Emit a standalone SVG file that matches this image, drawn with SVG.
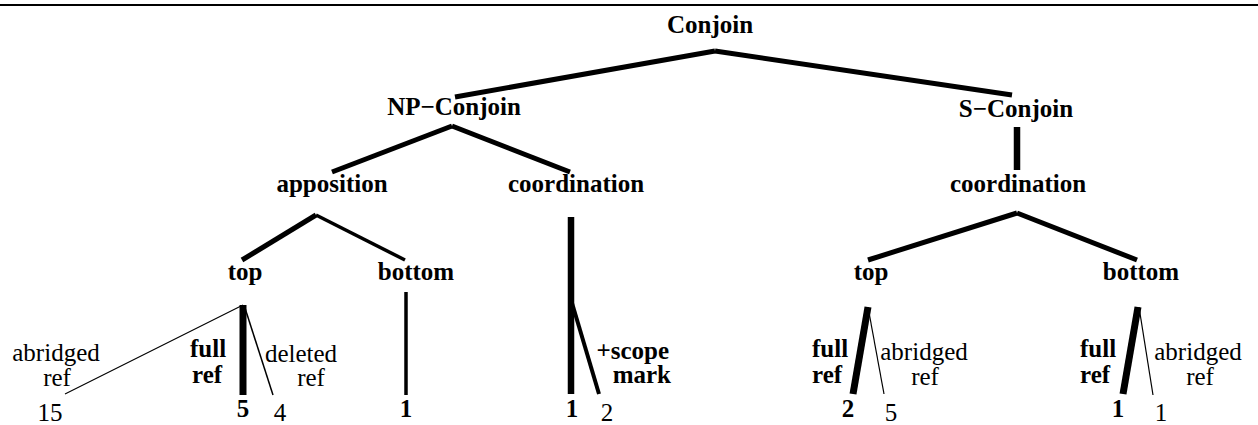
<svg xmlns="http://www.w3.org/2000/svg" width="1258" height="425" viewBox="0 0 1258 425">
<style>
text{font-family:"Liberation Serif","Times New Roman","DejaVu Serif",serif;font-size:25px;fill:#000}
.b{font-weight:bold}
.c{text-anchor:middle}
.e{text-anchor:end}
line{stroke:#000;stroke-linecap:butt}
.w1{stroke-width:1.2}
.w15{stroke-width:1.5}
.w3{stroke-width:3.5}
.w4{stroke-width:4}
.w5{stroke-width:5}
.w6{stroke-width:6.5}
.w7{stroke-width:7}
</style>
<rect x="0" y="4" width="1258" height="2" fill="#000"/>
<g id="connectors">
<line class="w5" x1="715" y1="51" x2="455" y2="97"/>
<line class="w5" x1="715" y1="51" x2="1012" y2="95"/>
<line class="w5" x1="452" y1="126" x2="332" y2="172"/>
<line class="w5" x1="452" y1="126" x2="570" y2="172"/>
<line class="w6" x1="1017" y1="127" x2="1017" y2="170"/>
<line class="w5" x1="316" y1="215" x2="242" y2="260"/>
<line class="w3" x1="316" y1="215" x2="405" y2="260"/>
<line class="w6" x1="571" y1="217" x2="571" y2="394"/>
<line class="w4" x1="572" y1="303" x2="599" y2="394"/>
<line class="w5" x1="1017" y1="213" x2="868" y2="260"/>
<line class="w5" x1="1017" y1="213" x2="1137" y2="260"/>
<line class="w7" x1="243" y1="305" x2="243" y2="395"/>
<line class="w1" x1="243" y1="305" x2="65" y2="394"/>
<line class="w15" x1="245" y1="308" x2="273" y2="395"/>
<line class="w3" x1="406" y1="292" x2="406" y2="395"/>
<line class="w7" x1="868" y1="307" x2="853" y2="394"/>
<line class="w1" x1="868" y1="307" x2="884" y2="394"/>
<line class="w7" x1="1138" y1="307" x2="1123" y2="394"/>
<line class="w1" x1="1139" y1="307" x2="1153" y2="395"/>
</g>
<g id="n-conjoin"><text class="b c" x="710" y="33">Conjoin</text></g>
<g id="n-npconjoin"><text class="b c" x="454" y="115">NP−Conjoin</text></g>
<g id="n-sconjoin"><text class="b c" x="1016" y="117">S−Conjoin</text></g>
<g id="n-apposition"><text class="b c" x="332" y="192">apposition</text></g>
<g id="n-coord-np"><text class="b c" x="576" y="192">coordination</text></g>
<g id="n-coord-s"><text class="b c" x="1018" y="192">coordination</text></g>
<g id="n-top-ap"><text class="b c" x="245" y="280">top</text></g>
<g id="n-bottom-ap"><text class="b c" x="416" y="280">bottom</text></g>
<g id="n-top-s"><text class="b c" x="871" y="280">top</text></g>
<g id="n-bottom-s"><text class="b c" x="1141" y="280">bottom</text></g>
<g id="leaf-abridged-1">
<text class="c" x="56" y="361">abridged</text>
<text class="c" x="57" y="386">ref</text>
<text class="c" x="50" y="421">15</text>
</g>
<g id="leaf-full-1">
<text class="b" x="190" y="357">full</text>
<text class="b" x="192" y="383">ref</text>
<text class="b c" x="243" y="417">5</text>
</g>
<g id="leaf-deleted">
<text class="c" x="301" y="362">deleted</text>
<text class="c" x="311" y="386">ref</text>
<text class="c" x="280" y="421">4</text>
</g>
<g id="leaf-bottom-ap"><text class="b c" x="406" y="417">1</text></g>
<g id="leaf-coord-np">
<text class="b c" x="572" y="417">1</text>
</g>
<g id="leaf-scope">
<text class="b e" x="669" y="359">+scope</text>
<text class="b e" x="671" y="383">mark</text>
<text class="c" x="607" y="421">2</text>
</g>
<g id="leaf-full-2">
<text class="b" x="812" y="357">full</text>
<text class="b" x="812" y="383">ref</text>
<text class="b c" x="848" y="417">2</text>
</g>
<g id="leaf-abridged-2">
<text class="c" x="924" y="360">abridged</text>
<text class="c" x="925" y="385">ref</text>
<text class="c" x="891" y="421">5</text>
</g>
<g id="leaf-full-3">
<text class="b" x="1080" y="357">full</text>
<text class="b" x="1080" y="383">ref</text>
<text class="b c" x="1118" y="417">1</text>
</g>
<g id="leaf-abridged-3">
<text class="c" x="1198" y="360">abridged</text>
<text class="c" x="1200" y="385">ref</text>
<text class="c" x="1161" y="421">1</text>
</g>
</svg>
